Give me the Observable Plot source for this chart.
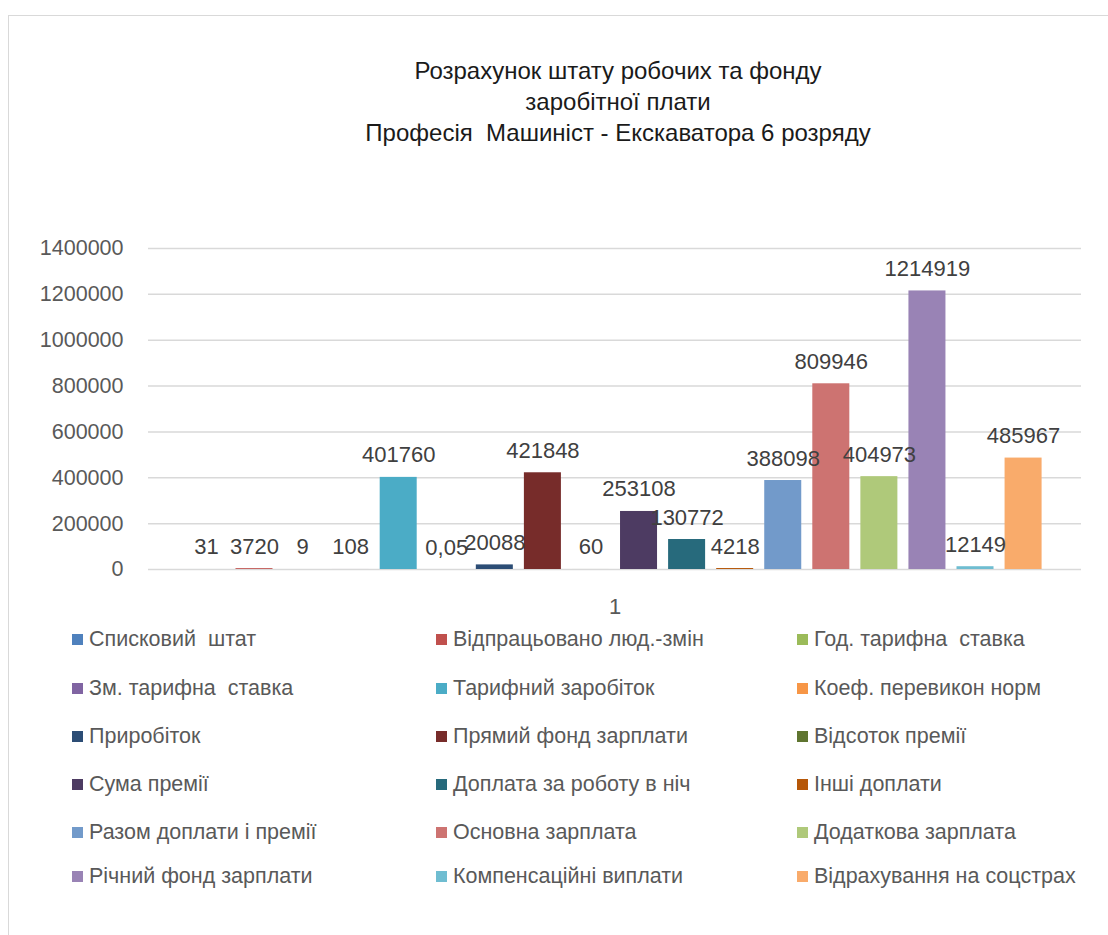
<!DOCTYPE html>
<html>
<head>
<meta charset="utf-8">
<script src="https://cdn.jsdelivr.net/npm/d3@7"></script>
<script src="https://cdn.jsdelivr.net/npm/@observablehq/plot@0.6"></script>
<style>
  html, body { margin: 0; padding: 0; background: #fff; }
  #wrap { position: relative; width: 1108px; height: 935px; overflow: hidden; font-family: "Liberation Sans", Arial, sans-serif; }
  #frame { position: absolute; left: 8px; top: 15px; width: 1110px; height: 930px; border-left: 1px solid #d9d9d9; border-top: 1px solid #d9d9d9; }
  #title { position: absolute; left: 268px; width: 700px; top: 55px; text-align: center; font-size: 24px; line-height: 31px; color: #1a1a1a; white-space: pre; }
  #chart { position: absolute; left: 0; top: 230px; }
  .lg { position: absolute; display: flex; align-items: center; font-size: 21.5px; color: #595959; white-space: pre; }
  .lg .sw { width: 11px; height: 11px; margin-right: 6px; flex: none; }
</style>
</head>
<body>
<div id="wrap">
  <div id="frame"></div>
  <div id="title"></div>
  <div id="chart"></div>
  <div id="legend"></div>
</div>
<script>
const titleLines = ["Розрахунок штату робочих та фонду", "заробітної плати", "Професія  Машиніст - Екскаватора 6 розряду"];
const category = "1";
const series = [
  "Списковий  штат", "Відпрацьовано люд.-змін", "Год. тарифна  ставка",
  "Зм. тарифна  ставка", "Тарифний заробіток", "Коеф. перевикон норм",
  "Приробіток", "Прямий фонд зарплати", "Відсоток премії",
  "Сума премії", "Доплата за роботу в ніч", "Інші доплати",
  "Разом доплати і премії", "Основна зарплата", "Додаткова зарплата",
  "Річний фонд зарплати", "Компенсаційні виплати", "Відрахування на соцстрах"
];
const values = [31, 3720, 9, 108, 401760, 0.05, 20088, 421848, 60, 253108, 130772, 4218, 388098, 809946, 404973, 1214919, 12149, 485967];
const colors = [
  "#4F81BD", "#C0504D", "#9BBB59", "#8064A2", "#4BACC6", "#F79646",
  "#2C4D75", "#772C2A", "#5F7530", "#4D3B62", "#276A7C", "#B65708",
  "#729ACA", "#CD7371", "#AFC97A", "#9983B5", "#6FBDD1", "#F9AB6B"
];
const yTicks = [0, 200000, 400000, 600000, 800000, 1000000, 1200000, 1400000];

const data = series.map((name, i) => ({cat: category, name, value: values[i]}));

document.getElementById("title").textContent = titleLines.join("\n");

const chart = Plot.plot({
  width: 1108,
  height: 395,
  marginLeft: 148,
  marginRight: 27,
  marginTop: 18,
  marginBottom: 56,
  style: {fontFamily: "'Liberation Sans', Arial, sans-serif", fontSize: "21px", color: "#595959", background: "transparent", overflow: "visible"},
  fx: {domain: [category], padding: 0, label: null, round: false},
  x: {domain: series, paddingInner: 0.23, paddingOuter: 0.82, axis: null, round: false},
  y: {domain: [0, 1400000], label: null},
  color: {domain: series, range: colors},
  marks: [
    Plot.gridY(yTicks, {stroke: "#d9d9d9", strokeOpacity: 1, strokeWidth: 1.5}),
    Plot.axisY(yTicks, {tickSize: 0, tickPadding: 25, tickFormat: d => String(d), fontSize: 21.5, label: null}),
    Plot.barY(data, {fx: "cat", x: "name", y: "value", fill: "name"}),
    Plot.text(data, {fx: "cat", x: "name", y: "value", text: d => String(d.value).replace(".", ","), lineAnchor: "bottom", dy: -15, fill: "#404040", fontSize: 22}),
    Plot.axisFx({anchor: "bottom", tickSize: 0, tickPadding: 29, fontSize: 22, label: null})
  ]
});
document.getElementById("chart").appendChild(chart);

const colX = [72, 436, 797];
const rowY = [639, 688, 736, 784, 832, 876];
const legend = document.getElementById("legend");
series.forEach((name, i) => {
  const el = document.createElement("div");
  el.className = "lg";
  el.style.left = colX[i % 3] + "px";
  el.style.top = (rowY[Math.floor(i / 3)] - 12) + "px";
  el.style.height = "24px";
  const sw = document.createElement("span");
  sw.className = "sw";
  sw.style.background = colors[i];
  const t = document.createElement("span");
  t.textContent = name;
  el.appendChild(sw);
  el.appendChild(t);
  legend.appendChild(el);
});
</script>
</body>
</html>
